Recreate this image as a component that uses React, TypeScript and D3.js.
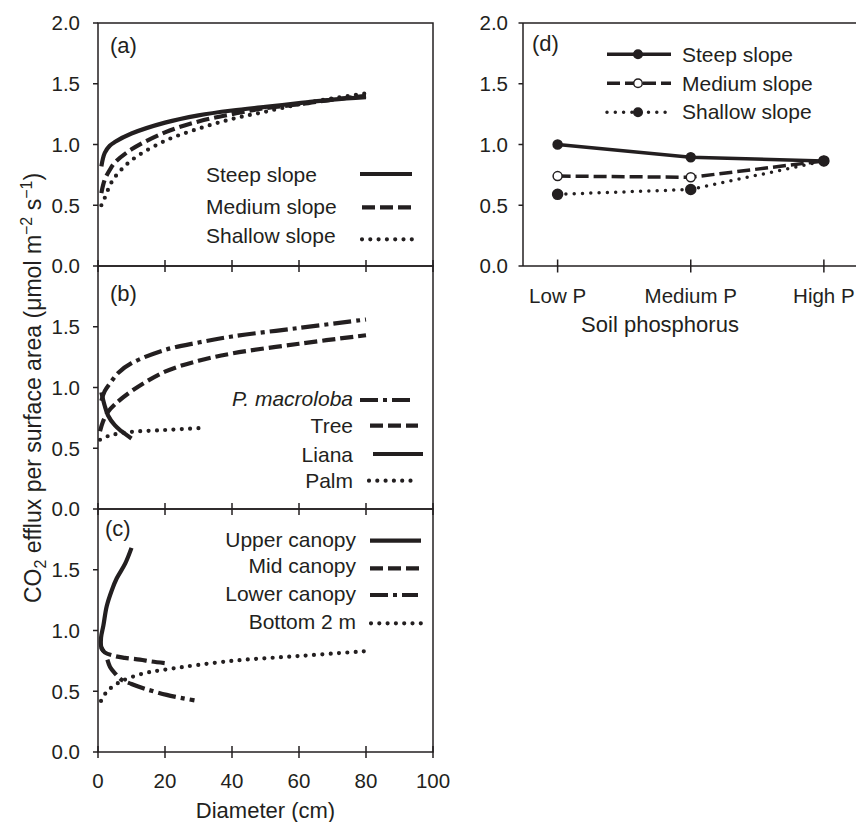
import React from "react";
import * as d3 from "d3";

// ---------- data ----------
const diameterTicks = [0, 20, 40, 60, 80, 100];
const effluxTicksTop = [0, 0.5, 1.0, 1.5, 2.0];
const effluxTicks = [0, 0.5, 1.0, 1.5];

// panel (a)
const aDiam = [1, 2, 3.5, 5, 10, 20, 30, 40, 50, 60, 70, 80];
const aSteep = [0.82, 0.93, 0.99, 1.02, 1.09, 1.18, 1.24, 1.28, 1.31, 1.34, 1.37, 1.39];
const aMedium = [0.6, 0.71, 0.79, 0.85, 0.96, 1.1, 1.19, 1.25, 1.3, 1.33, 1.37, 1.4];
const aShallow = [0.5, 0.56, 0.66, 0.73, 0.87, 1.03, 1.13, 1.21, 1.27, 1.33, 1.38, 1.42];

// panel (b)
const bPmacDiam = [1, 2, 4, 6, 10, 20, 30, 40, 60, 80];
const bPmac = [0.89, 0.97, 1.05, 1.12, 1.2, 1.31, 1.37, 1.42, 1.49, 1.56];
const bTreeDiam = [0.6, 1.5, 3, 5, 10, 20, 30, 40, 60, 80];
const bTree = [0.64, 0.72, 0.8, 0.86, 0.97, 1.13, 1.22, 1.28, 1.36, 1.43];
const bLianaDiam = [1, 2, 3, 5, 7, 10];
const bLiana = [0.96, 0.85, 0.77, 0.69, 0.64, 0.58];
const bPalmDiam = [0.6, 3, 6, 10, 20, 30];
const bPalm = [0.57, 0.6, 0.62, 0.635, 0.65, 0.665];

// panel (c)
const cUpperDiam = [1.8, 1.1, 0.9, 1.6, 2.6, 4.1, 5.6, 8.1, 10];
const cUpper = [0.83, 0.85, 0.94, 1.04, 1.2, 1.33, 1.43, 1.55, 1.68];
const cMidDiam = [1, 2, 5, 8, 12.5, 16, 20.5];
const cMid = [0.86, 0.82, 0.79, 0.775, 0.76, 0.745, 0.73];
const cLowerDiam = [2.8, 3.6, 5, 7, 10, 13.5, 20.5, 28.8];
const cLower = [0.76, 0.7, 0.65, 0.595, 0.56, 0.525, 0.47, 0.425];
const cBottomDiam = [0.9, 2.6, 6.6, 13.5, 20.5, 40, 60, 80];
const cBottom = [0.42, 0.495, 0.577, 0.646, 0.68, 0.75, 0.79, 0.83];

// panel (d)
const dCats = ["Low P", "Medium P", "High P"];
const dSteep = [1.0, 0.895, 0.865];
const dMedium = [0.74, 0.73, 0.865];
const dShallow = [0.59, 0.63, 0.865];

// ---------- styles ----------
const FONT = "'Liberation Sans', Arial, Helvetica, sans-serif";
const INK = "#231f20";
type LS = { dash?: string; cap: "butt" | "round" };
const SOLID: LS = { cap: "butt" };
const DASHED: LS = { dash: "13 5", cap: "butt" };
const DOTTED: LS = { dash: "0 8.3", cap: "round" };
const DASHDOT: LS = { dash: "18 5 4 5", cap: "butt" };

const LEFT = 98;
const RIGHT = 433;
const PH = 243;
const tops = [23, 266, 509];

const x = d3.scaleLinear().domain([0, 100]).range([LEFT, RIGHT]);
const yFor = (top: number) => d3.scaleLinear().domain([0, 2]).range([top + PH, top]);

function zip(a: number[], b: number[]): [number, number][] {
  return a.map((v, i) => [v, b[i]]);
}

function Curve({ xs, ys, top, st, w = 4.2 }: { xs: number[]; ys: number[]; top: number; st: LS; w?: number }) {
  const y = yFor(top);
  const line = d3
    .line<[number, number]>()
    .x((d) => x(d[0]))
    .y((d) => y(d[1]))
    .curve(d3.curveCatmullRom.alpha(0.5));
  return (
    <path
      d={line(zip(xs, ys)) || ""}
      fill="none"
      stroke={INK}
      strokeWidth={w}
      strokeDasharray={st.dash}
      strokeLinecap={st.cap}
    />
  );
}

function LegendSample({ x1, x2, y, st, w = 4.2 }: { x1: number; x2: number; y: number; st: LS; w?: number }) {
  return (
    <line x1={x1} x2={x2} y1={y} y2={y} stroke={INK} strokeWidth={w} strokeDasharray={st.dash} strokeLinecap={st.cap} />
  );
}

function PanelFrame({ top, ticks, label, labelX, labelY, showX }: { top: number; ticks: number[]; label: string; labelX: number; labelY: number; showX: boolean }) {
  const y = yFor(top);
  const bottom = top + PH;
  return (
    <g>
      <rect x={LEFT} y={top} width={RIGHT - LEFT} height={PH} fill="none" stroke={INK} strokeWidth={1.5} />
      {ticks.map((t) => (
        <g key={t}>
          <line x1={LEFT - 5} x2={LEFT} y1={y(t)} y2={y(t)} stroke={INK} strokeWidth={1.5} />
          <text x={80} y={y(t)} dy="0.36em" textAnchor="end" fontSize={20.5}>
            {t.toFixed(1)}
          </text>
        </g>
      ))}
      {diameterTicks.map((t) => (
        <line key={"x" + t} x1={x(t)} x2={x(t)} y1={bottom - 6} y2={bottom + 6} stroke={INK} strokeWidth={1.5} />
      ))}
      {showX &&
        diameterTicks.map((t) => (
          <text key={"xl" + t} x={x(t)} y={788} textAnchor="middle" fontSize={20.5}>
            {t}
          </text>
        ))}
      <text x={labelX} y={labelY} fontSize={22}>
        {label}
      </text>
    </g>
  );
}

function PanelD() {
  const L = 523;
  const R = 858.5;
  const top = 23;
  const bottom = 266;
  const xp = d3.scalePoint<string>().domain(dCats).range([L, R]).padding(0.26);
  const y = d3.scaleLinear().domain([0, 2]).range([bottom, top]);
  const line = d3
    .line<number>()
    .x((_, i) => xp(dCats[i]) as number)
    .y((d) => y(d));
  const series = [
    { name: "Steep slope", vals: dSteep, st: SOLID, fill: INK, r: 4.5, ly: 54.3, ty: 61.7 },
    { name: "Medium slope", vals: dMedium, st: DASHED, fill: "#fff", r: 4.5, ly: 83.3, ty: 90.7 },
    { name: "Shallow slope", vals: dShallow, st: DOTTED, fill: INK, r: 5, ly: 112.3, ty: 119 },
  ];
  return (
    <g>
      <line x1={L} x2={L} y1={top} y2={bottom} stroke={INK} strokeWidth={1.5} />
      <line x1={L} x2={R} y1={top} y2={top} stroke={INK} strokeWidth={1.5} />
      <line x1={L} x2={R} y1={bottom} y2={bottom} stroke={INK} strokeWidth={1.5} />
      {effluxTicksTop.map((t) => (
        <g key={t}>
          <line x1={L - 4.5} x2={L} y1={y(t)} y2={y(t)} stroke={INK} strokeWidth={1.5} />
          <text x={508} y={y(t)} dy="0.36em" textAnchor="end" fontSize={20.5}>
            {t.toFixed(1)}
          </text>
        </g>
      ))}
      {dCats.map((c) => (
        <g key={c}>
          <line x1={xp(c)} x2={xp(c)} y1={bottom - 6.5} y2={bottom + 6.5} stroke={INK} strokeWidth={1.5} />
          <text x={xp(c)} y={303} textAnchor="middle" fontSize={20.5}>
            {c}
          </text>
        </g>
      ))}
      <text x={660} y={332} textAnchor="middle" fontSize={22}>
        Soil phosphorus
      </text>
      <text x={532} y={51} fontSize={22}>
        (d)
      </text>
      {series.map((s) => (
        <path
          key={s.name}
          d={line(s.vals) || ""}
          fill="none"
          stroke={INK}
          strokeWidth={3.5}
          strokeDasharray={s.st.dash}
          strokeLinecap={s.st.cap}
        />
      ))}
      {series
        .slice()
        .reverse()
        .map((s) =>
          s.vals.map((v, i) => (
            <circle key={s.name + i} cx={xp(dCats[i])} cy={y(v)} r={s.r} fill={s.fill} stroke={INK} strokeWidth={1.5} />
          ))
        )}
      {series.map((s) => (
        <g key={"lg" + s.name}>
          <LegendSample x1={607} x2={671} y={s.ly} st={s.st} w={3.5} />
          <circle cx={638} cy={s.ly} r={4.3} fill={s.fill} stroke={INK} strokeWidth={1.5} />
          <text x={682} y={s.ty} fontSize={21}>
            {s.name}
          </text>
        </g>
      ))}
    </g>
  );
}

export default function App() {
  const [ta, tb, tc] = tops;
  return (
    <svg
      width={856}
      height={822}
      viewBox="0 0 856 822"
      style={{ position: "absolute", left: 0, top: 0, background: "#fff" }}
      fontFamily={FONT}
      fill={INK}
    >
      <rect x={0} y={0} width={856} height={822} fill="#fff" />
      {/* panel a */}
      <PanelFrame top={ta} ticks={effluxTicksTop} label="(a)" labelX={110} labelY={53} showX={false} />
      <Curve xs={aDiam} ys={aShallow} top={ta} st={DOTTED} />
      <Curve xs={aDiam} ys={aMedium} top={ta} st={DASHED} />
      <Curve xs={aDiam} ys={aSteep} top={ta} st={SOLID} />
      <text x={206} y={181.7} fontSize={21}>Steep slope</text>
      <text x={206} y={214} fontSize={21}>Medium slope</text>
      <text x={206} y={243.3} fontSize={21}>Shallow slope</text>
      <LegendSample x1={360} x2={412} y={174} st={SOLID} />
      <LegendSample x1={362} x2={414} y={207.3} st={DASHED} />
      <LegendSample x1={362} x2={414} y={239.3} st={DOTTED} />

      {/* panel b */}
      <PanelFrame top={tb} ticks={effluxTicks} label="(b)" labelX={110} labelY={301} showX={false} />
      <Curve xs={bPalmDiam} ys={bPalm} top={tb} st={DOTTED} />
      <Curve xs={bTreeDiam} ys={bTree} top={tb} st={DASHED} />
      <Curve xs={bPmacDiam} ys={bPmac} top={tb} st={DASHDOT} />
      <Curve xs={bLianaDiam} ys={bLiana} top={tb} st={SOLID} />
      <text x={353} y={406} fontSize={21} textAnchor="end" fontStyle="italic">P. macroloba</text>
      <text x={353} y={433.3} fontSize={21} textAnchor="end">Tree</text>
      <text x={353} y={461.7} fontSize={21} textAnchor="end">Liana</text>
      <text x={353} y={488.3} fontSize={21} textAnchor="end">Palm</text>
      <LegendSample x1={360} x2={415} y={400} st={DASHDOT} />
      <LegendSample x1={370} x2={418} y={425.7} st={DASHED} />
      <LegendSample x1={373} x2={423} y={454} st={SOLID} />
      <LegendSample x1={369} x2={418} y={480.7} st={DOTTED} />

      {/* panel c */}
      <PanelFrame top={tc} ticks={effluxTicks} label="(c)" labelX={105} labelY={536} showX={true} />
      <Curve xs={cBottomDiam} ys={cBottom} top={tc} st={DOTTED} />
      <Curve xs={cLowerDiam} ys={cLower} top={tc} st={DASHDOT} />
      <Curve xs={cMidDiam} ys={cMid} top={tc} st={DASHED} />
      <Curve xs={cUpperDiam} ys={cUpper} top={tc} st={SOLID} />
      <text x={356} y={546.7} fontSize={21} textAnchor="end">Upper canopy</text>
      <text x={356} y={573.3} fontSize={21} textAnchor="end">Mid canopy</text>
      <text x={356} y={601} fontSize={21} textAnchor="end">Lower canopy</text>
      <text x={356} y={629} fontSize={21} textAnchor="end">Bottom 2 m</text>
      <LegendSample x1={370} x2={421} y={540.7} st={SOLID} />
      <LegendSample x1={370} x2={422} y={568.3} st={DASHED} />
      <LegendSample x1={370} x2={418} y={595} st={DASHDOT} />
      <LegendSample x1={371} x2={422} y={623.3} st={DOTTED} />

      <text x={265.5} y={818} fontSize={22} textAnchor="middle">Diameter (cm)</text>

      {/* y axis title */}
      <text transform="translate(41,388) rotate(-90)" textAnchor="middle" fontSize={23}>
        CO
        <tspan fontSize={16} dy={5}>2</tspan>
        <tspan dy={-5}> efflux per surface area (μmol m</tspan>
        <tspan fontSize={16} dy={-9}>−2</tspan>
        <tspan dy={9}> s</tspan>
        <tspan fontSize={16} dy={-9}>−1</tspan>
        <tspan dy={9}>)</tspan>
      </text>

      <PanelD />
    </svg>
  );
}
